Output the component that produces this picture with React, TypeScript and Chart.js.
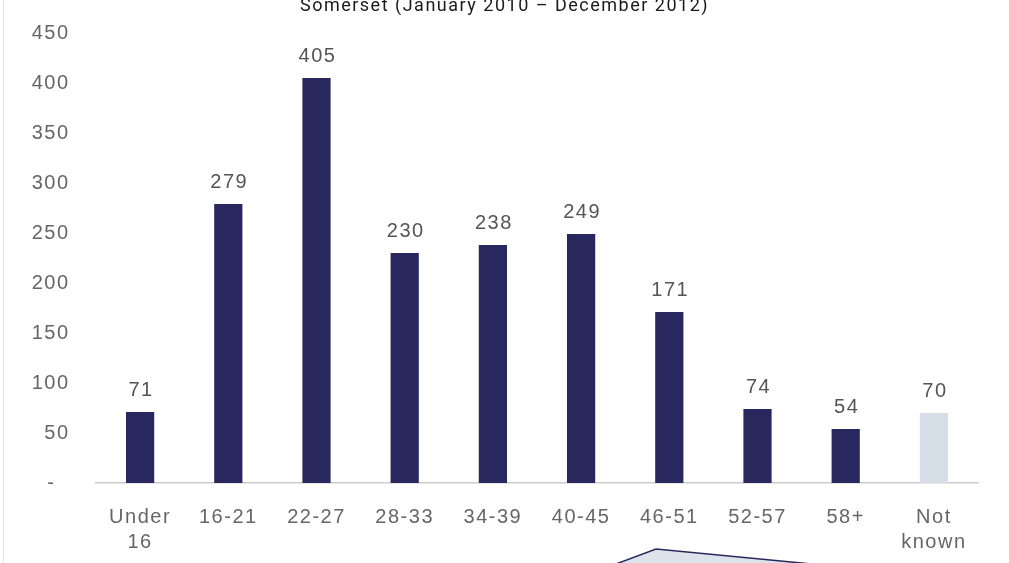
import React, { useEffect, useRef } from "react";
import { Chart, registerables } from "chart.js";

Chart.register(...registerables);

const categories: (string | string[])[] = [
  ["Under", "16"],
  "16-21",
  "22-27",
  "28-33",
  "34-39",
  "40-45",
  "46-51",
  "52-57",
  "58+",
  ["Not", "known"],
];
const counts = [71, 279, 405, 230, 238, 249, 171, 74, 54, 70];
const knownColor = "#29285e";
const unknownColor = "#d5dde6";
const barColors = categories.map((_, i) => (i === categories.length - 1 ? unknownColor : knownColor));
const titleText = "Somerset (January 2010 – December 2012)";
const yMin = 0;
const yMax = 450;
const yStep = 50;

const W = 1009;
const H = 563;
const SPACING = "1.5px";
const TICK_FONT = "'Liberation Sans', Arial, sans-serif";

const spacingPlugin = {
  id: "spacing",
  beforeUpdate(chart: any) {
    chart.ctx.letterSpacing = SPACING;
  },
  beforeLayout(chart: any) {
    chart.ctx.letterSpacing = SPACING;
  },
  beforeDraw(chart: any) {
    chart.ctx.letterSpacing = SPACING;
  },
};

const labelPlugin = {
  id: "valueLabels",
  afterDatasetsDraw(chart: any) {
    const ctx = chart.ctx;
    const meta = chart.getDatasetMeta(0);
    ctx.save();
    ctx.letterSpacing = SPACING;
    ctx.font = `20px ${TICK_FONT}`;
    ctx.fillStyle = "#555555";
    ctx.textAlign = "center";
    ctx.textBaseline = "alphabetic";
    meta.data.forEach((el: any, i: number) => {
      ctx.fillText(String(counts[i]), el.x + 1, el.y - 16);
    });
    ctx.restore();
  },
};

const decorPlugin = {
  id: "decor",
  afterDraw(chart: any) {
    const ctx = chart.ctx;
    ctx.save();
    // title, partly cut off at the top edge as in the source
    ctx.letterSpacing = SPACING;
    ctx.font = "18px Roboto, 'Noto Sans', sans-serif";
    ctx.fillStyle = "#1a1a1a";
    ctx.textAlign = "center";
    ctx.textBaseline = "alphabetic";
    ctx.fillText(titleText, chart.width / 2, 10.5);
    // faint page edge
    ctx.strokeStyle = "#e6e6e6";
    ctx.lineWidth = 1;
    ctx.beginPath();
    ctx.moveTo(3.5, 0);
    ctx.lineTo(3.5, H);
    ctx.stroke();
    // callout shape peeking at bottom
    ctx.fillStyle = "#dde3ea";
    ctx.strokeStyle = "#29285e";
    ctx.lineWidth = 1.5;
    ctx.beginPath();
    ctx.moveTo(616, 564);
    ctx.lineTo(656, 549);
    ctx.lineTo(812, 564);
    ctx.closePath();
    ctx.fill();
    ctx.stroke();
    ctx.restore();
  },
};

export default function App() {
  const ref = useRef<HTMLCanvasElement | null>(null);
  useEffect(() => {
    if (!ref.current) return;
    const chart = new Chart(ref.current, {
      type: "bar",
      data: {
        labels: categories,
        datasets: [
          {
            data: counts,
            backgroundColor: barColors,
            borderWidth: 0,
            barPercentage: 0.32,
            categoryPercentage: 1,
            yAxisID: "y",
          },
        ],
      },
      options: {
        responsive: false,
        animation: false,
        layout: { padding: { top: 33, left: 0, right: 0, bottom: 0 } },
        plugins: {
          legend: { display: false },
          tooltip: { enabled: false },
          title: { display: false },
        },
        scales: {
          x: {
            grid: { display: false, drawTicks: false },
            border: { display: true, color: "#cccccc", width: 1.5 },
            ticks: {
              color: "#666666",
              font: { family: TICK_FONT, size: 20, lineHeight: 1.25 },
              padding: 22,
              maxRotation: 0,
              autoSkip: false,
            },
            afterFit(scale: any) {
              scale.height = H - 483;
            },
          },
          y: {
            min: yMin,
            max: yMax,
            grid: { display: false, drawTicks: false },
            border: { display: false },
            ticks: {
              stepSize: yStep,
              color: "#666666",
              font: { family: TICK_FONT, size: 20 },
              padding: 26.5,
              callback: (v: any) => (Number(v) === 0 ? "-  " : String(v)),
            },
            afterFit(scale: any) {
              scale.width = 96;
              scale.paddingTop = 12;
              scale.paddingBottom = 12;
            },
          },
          spacer: {
            type: "linear",
            position: "right",
            grid: { display: false, drawTicks: false },
            border: { display: false },
            ticks: { display: false },
            afterFit(scale: any) {
              scale.width = 31;
            },
          },
        },
      },
      plugins: [spacingPlugin, labelPlugin, decorPlugin],
    });
    return () => chart.destroy();
  }, []);
  return (
    <div style={{ position: "absolute", left: 0, top: 0, width: W, height: H, background: "#ffffff" }}>
      <canvas ref={ref} width={W} height={H} style={{ display: "block" }} />
    </div>
  );
}
